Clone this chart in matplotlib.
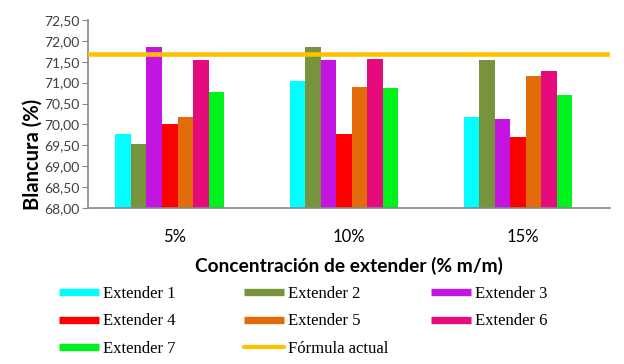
import numpy as np
import matplotlib.pyplot as plt
from matplotlib.lines import Line2D

categories = ["5%", "10%", "15%"]
series_names = ["Extender 1", "Extender 2", "Extender 3", "Extender 4",
                "Extender 5", "Extender 6", "Extender 7"]
ext1 = [69.77, 71.05, 70.17]
ext2 = [69.53, 71.86, 71.54]
ext3 = [71.86, 71.54, 70.12]
ext4 = [70.02, 69.76, 69.69]
ext5 = [70.17, 70.90, 71.16]
ext6 = [71.55, 71.57, 71.29]
ext7 = [70.77, 70.88, 70.71]
formula_actual = 71.68
colors = ["#00FFFF", "#77933C", "#C414E0", "#FF0000", "#E36C0A", "#E60B7D", "#00F21C"]
line_color = "#FFC000"

series = [ext1, ext2, ext3, ext4, ext5, ext6, ext7]

fig = plt.figure(figsize=(6.24, 3.64), dpi=100)
ax = fig.add_axes([0.141, 0.4286, 0.837, 0.5165])

x = np.arange(len(categories))
group_w = 0.625
shift = -0.03  # bar groups sit a bit left of the category centre
bw = group_w / len(series)
for i, (name, vals, c) in enumerate(zip(series_names, series, colors)):
    ax.bar(x + shift - group_w / 2 + bw * (i + 0.5), vals, width=bw, color=c, label=name)

ax.axhline(formula_actual, color=line_color, lw=3.3, zorder=3)

yt = np.arange(68, 72.51, 0.5)
ax.set_ylim(68, 72.5)
ax.set_xlim(-0.5, 2.5)
ax.set_yticks(yt)
ax.set_yticklabels([f"{v:.2f}".replace(".", ",") for v in yt],
                   fontsize=10, family="Lato", color="#404040")
ax.set_xticks(x)
ax.set_xticklabels(categories, fontsize=12, family="Lato")
ax.tick_params(axis="x", length=0, pad=15)
ax.tick_params(axis="y", length=4, color="#888888", pad=2)
for s in ["top", "right"]:
    ax.spines[s].set_visible(False)
for s in ["left", "bottom"]:
    ax.spines[s].set_color("#888888")
    ax.spines[s].set_linewidth(1.2)

ax.text(-0.105, 0.287, "Blancura (%)", transform=ax.transAxes, rotation=90,
        ha="center", va="center", fontsize=14.5, fontweight="bold", family="Lato")
ax.set_xlabel("Concentración de extender (% m/m)", fontsize=13.8, fontweight="bold",
              family="Lato", labelpad=9)

handles = [Line2D([0], [0], color=c, lw=5.3, solid_capstyle="butt") for c in colors]
handles.append(Line2D([0], [0], color=line_color, lw=3, solid_capstyle="round"))
labels = series_names + ["Fórmula actual"]
col_x = [59, 244, 431]
for j in range(3):
    fig.legend(handles[j::3], labels[j::3], loc="upper left",
               bbox_to_anchor=(col_x[j] / 624, 1 - 286 / 364), borderaxespad=0, borderpad=0,
               frameon=False, prop={"family": "Liberation Serif", "size": 12},
               handlelength=2.4, handletextpad=0.25, labelspacing=0.68)

fig.savefig("out.png", dpi=100)
